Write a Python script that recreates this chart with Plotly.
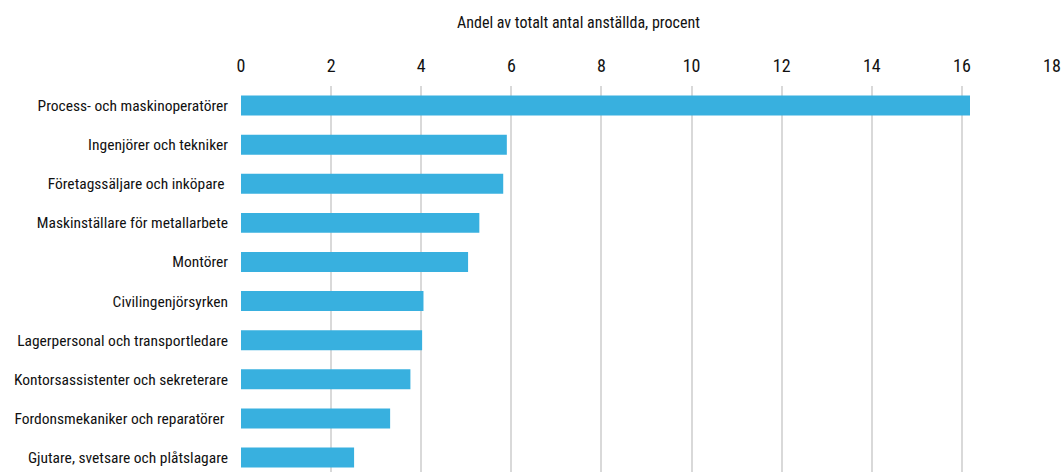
import plotly.graph_objects as go

# Occupational groups, top to bottom
categories = [
    "Process- och maskinoperatörer",
    "Ingenjörer och tekniker",
    "Företagssäljare och inköpare\u00a0",
    "Maskinställare för metallarbete",
    "Montörer",
    "Civilingenjörsyrken",
    "Lagerpersonal och transportledare",
    "Kontorsassistenter och sekreterare",
    "Fordonsmekaniker och reparatörer\u00a0",
    "Gjutare, svetsare och plåtslagare",
]

# Share of total number of employees, percent
values = [16.18, 5.9, 5.82, 5.29, 5.04, 4.05, 4.02, 3.76, 3.31, 2.51]

x_ticks = [0, 2, 4, 6, 8, 10, 12, 14, 16, 18]
axis_title = "Andel av totalt antal anställda, procent"

FONT = "Liberation Sans Narrow, Roboto Condensed, DejaVu Sans Condensed, Arial Narrow, sans-serif"

fig = go.Figure(
    go.Bar(
        x=values,
        y=categories,
        orientation="h",
        marker=dict(color="#38b0df", line=dict(width=0)),
        width=0.51,
    )
)

fig.update_layout(
    width=1062,
    height=472,
    margin=dict(l=241, r=10, t=86, b=0),
    paper_bgcolor="white",
    plot_bgcolor="white",
    showlegend=False,
    bargap=0.49,
    font=dict(family=FONT, size=16, color="#111111"),
)

fig.update_xaxes(
    side="top",
    range=[0, 18],
    tickvals=x_ticks,
    ticktext=[str(t) for t in x_ticks],
    showgrid=True,
    gridcolor="#d9d9d9",
    gridwidth=1.5,
    zeroline=False,
    showline=False,
    ticks="",
    ticklabelstandoff=9,
    tickfont=dict(family=FONT, size=18, color="#111111"),
)

fig.update_yaxes(
    type="category",
    categoryorder="array",
    categoryarray=categories,
    range=[9.37, -0.5],
    showgrid=False,
    zeroline=False,
    showline=False,
    ticks="",
    ticklabelstandoff=12,
    tickfont=dict(family=FONT, size=15.5, color="#111111"),
)

fig.add_annotation(
    text=axis_title,
    xref="paper",
    yref="paper",
    x=(578 - 241) / 811,
    y=1,
    yshift=64,
    xanchor="center",
    yanchor="middle",
    showarrow=False,
    font=dict(family=FONT, size=16, color="#111111"),
)

fig.write_html("out.html")
